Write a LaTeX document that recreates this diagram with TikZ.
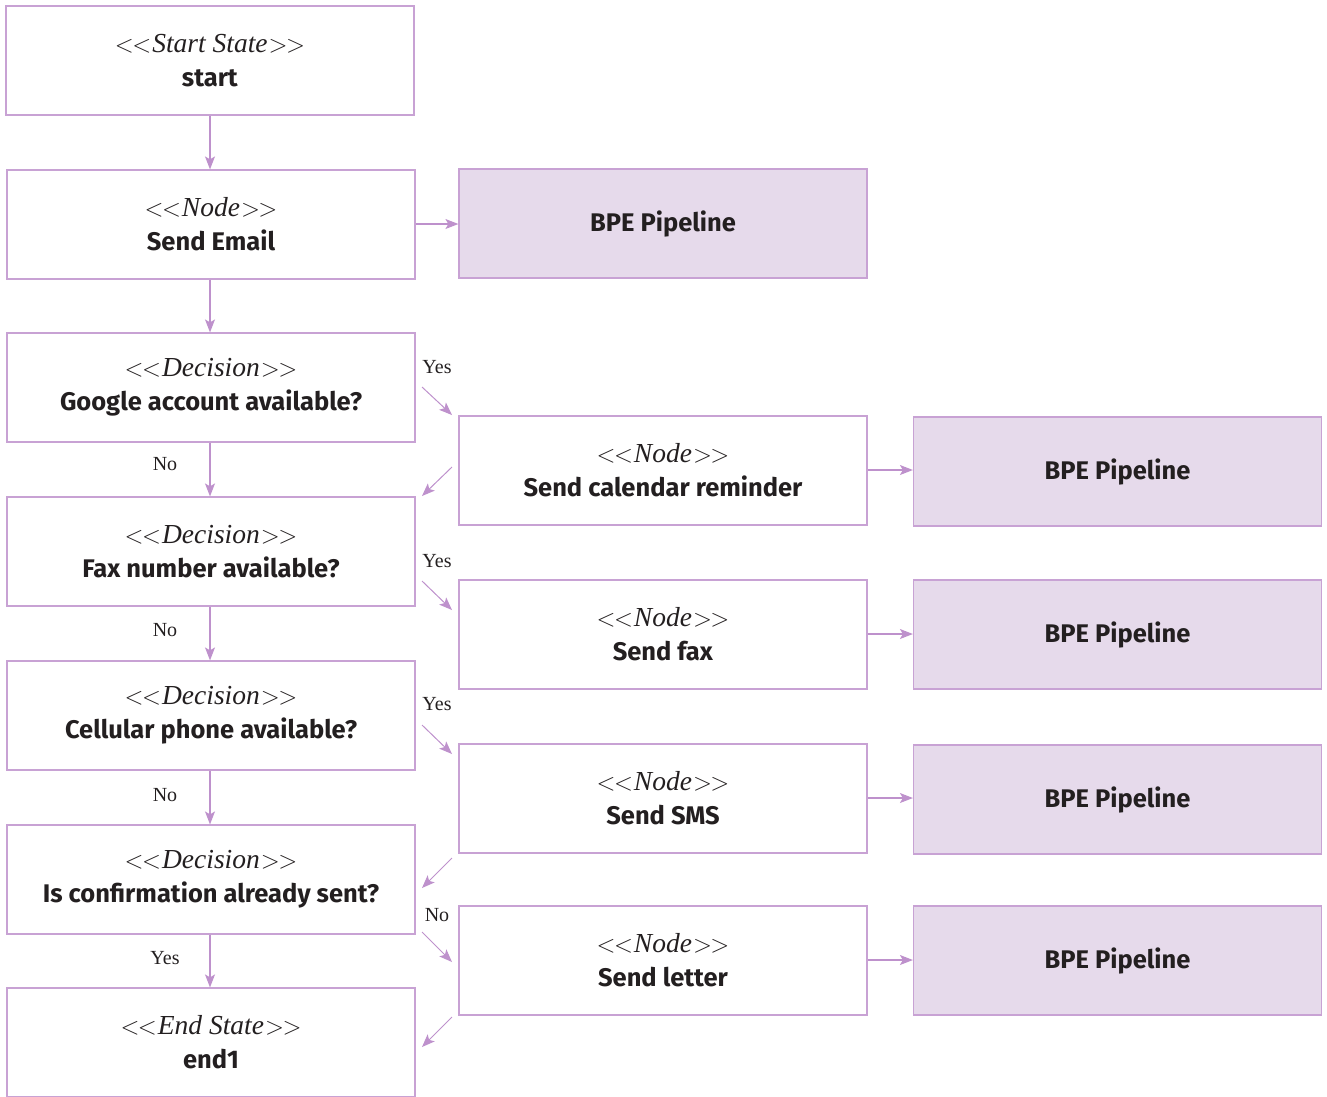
\documentclass[tikz,border=0pt]{standalone}
\usepackage{fontspec}
\setmainfont{Liberation Serif}
\setsansfont{Fira Sans}
\usetikzlibrary{arrows.meta}
\definecolor{bord}{RGB}{200,162,212}
\definecolor{arr}{RGB}{190,145,204}
\definecolor{bpefill}{RGB}{230,218,235}
\definecolor{txt}{RGB}{35,31,32}
\tikzset{
  box/.style={draw=bord, line width=1.2pt, minimum width=408pt, minimum height=109pt,
    inner sep=0pt, align=center, text=txt, font=\fontsize{25.5}{33}\selectfont},
  bpe/.style={box, fill=bpefill},
  conn/.style={draw=arr, line width=1.2pt, -{Stealth[length=13pt,width=10pt,inset=3pt]}},
  lab/.style={text=txt, font=\fontsize{20}{22}\selectfont, inner sep=0pt}
}
\newcommand{\ltlt}{\ensuremath{<}\kern-1.5pt\ensuremath{<}\kern1pt}
\newcommand{\gtgt}{\kern1pt\ensuremath{>}\kern-1.5pt\ensuremath{>}}
\newcommand{\ster}[2]{{\fontsize{27.5}{33}\selectfont\ltlt\textit{#1}\gtgt}\\[1pt]\textsf{\bfseries #2}}
\begin{document}
\begin{tikzpicture}[x=1pt,y=-1pt]
\useasboundingbox (0,0) rectangle (1327,1096);
% left column
\node[box] (start) at (210,60.5) {\ster{Start State}{start}};
\node[box] (email) at (211,224.5) {\ster{Node}{Send Email}};
\node[box] (google) at (211,387.5) {\ster{Decision}{Google account available?}};
\node[box] (fax) at (211,551.5) {\ster{Decision}{Fax number available?}};
\node[box] (cell) at (211,715.5) {\ster{Decision}{Cellular phone available?}};
\node[box] (conf) at (211,879.5) {\ster{Decision}{Is confirmation already sent?}};
\node[box] (end) at (211,1042.5) {\ster{End State}{end1}};
% middle column
\node[bpe] (bpe0) at (663,223.5) {\textsf{\bfseries BPE Pipeline}};
\node[box] (cal) at (663,470.5) {\ster{Node}{Send calendar reminder}};
\node[box] (sfax) at (663,634.5) {\ster{Node}{Send fax}};
\node[box] (sms) at (663,798.5) {\ster{Node}{Send SMS}};
\node[box] (letter) at (663,960.5) {\ster{Node}{Send letter}};
% right column
\node[bpe] (bpe1) at (1117.5,471.5) {\textsf{\bfseries BPE Pipeline}};
\node[bpe] (bpe2) at (1117.5,634.5) {\textsf{\bfseries BPE Pipeline}};
\node[bpe] (bpe3) at (1117.5,799.5) {\textsf{\bfseries BPE Pipeline}};
\node[bpe] (bpe4) at (1117.5,960.5) {\textsf{\bfseries BPE Pipeline}};
% vertical connectors
\draw[conn] (start.south -| 210,0) -- (email.north -| 210,0);
\draw[conn] (email.south -| 210,0) -- (google.north -| 210,0);
\draw[conn] (google.south -| 210,0) -- (fax.north -| 210,0);
\draw[conn] (fax.south -| 210,0) -- (cell.north -| 210,0);
\draw[conn] (cell.south -| 210,0) -- (conf.north -| 210,0);
\draw[conn] (conf.south -| 210,0) -- (end.north -| 210,0);
\node[lab] (no1) at (165,464) {No};
\node[lab] (no2) at (165,630) {No};
\node[lab] (no3) at (165,795) {No};
\node[lab] (yes4) at (165,958) {Yes};
% horizontal connectors
\draw[conn] (email.east |- 0,224) -- (bpe0.west |- 0,224);
\draw[conn] (cal.east |- 0,470) -- (bpe1.west |- 0,470);
\draw[conn] (sfax.east |- 0,634) -- (bpe2.west |- 0,634);
\draw[conn] (sms.east |- 0,798) -- (bpe3.west |- 0,798);
\draw[conn] (letter.east |- 0,960) -- (bpe4.west |- 0,960);
% diagonal connectors
\coordinate (a1) at (422,387); \coordinate (b1) at (452,415);
\coordinate (a2) at (452,467); \coordinate (b2) at (422,496);
\coordinate (a3) at (422,581); \coordinate (b3) at (452,610);
\coordinate (a4) at (422,725); \coordinate (b4) at (452,754);
\coordinate (a5) at (452,858); \coordinate (b5) at (422,888);
\coordinate (a6) at (422,932); \coordinate (b6) at (452,962);
\coordinate (a7) at (452,1017); \coordinate (b7) at (422,1047);
\foreach \i in {1,...,7} {\draw[conn, line width=1pt] (a\i) -- (b\i);}
\node[lab] (y1) at (437,367) {Yes};
\node[lab] (y2) at (437,561) {Yes};
\node[lab] (y3) at (437,704) {Yes};
\node[lab] (n4) at (437,915) {No};
\end{tikzpicture}
\end{document}
